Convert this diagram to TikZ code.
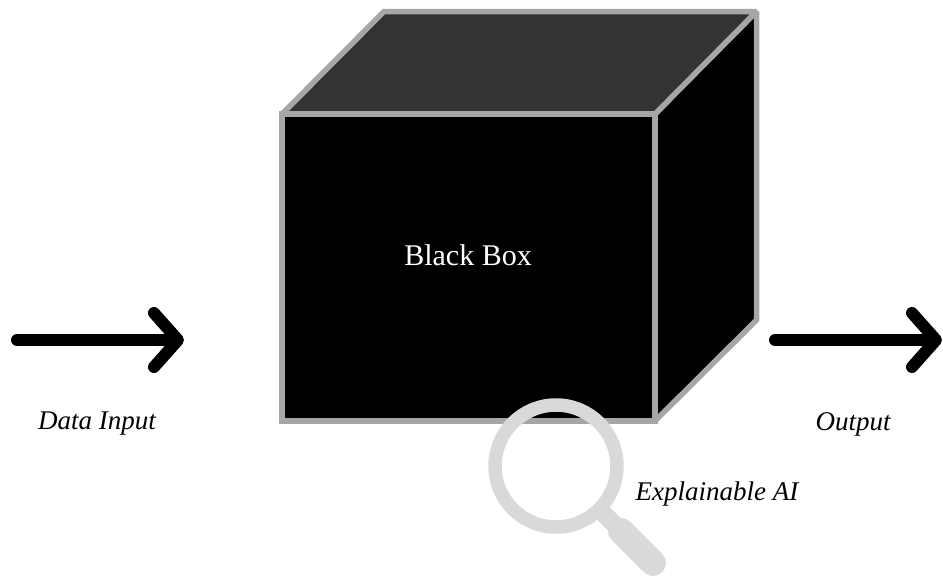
\documentclass[tikz,border=0pt]{standalone}
\usepackage{fontspec}
\setmainfont{Liberation Serif}
\usetikzlibrary{arrows.meta}
\tikzset{
  face/.style={draw=boxedge, line width=5.5pt, miter limit=1.5},
  flow/.style={line width=12pt, line cap=round, -{Straight Barb[round, length=24pt, width=54pt]}},
  lens/.style={draw=lensgray, line width=13.5pt},
  caption/.style={font=\fontsize{27}{30}\selectfont\itshape, inner sep=0pt}
}
\definecolor{boxedge}{HTML}{A6A6A6}
\definecolor{boxtop}{HTML}{333333}
\definecolor{lensgray}{HTML}{D9D9D9}

\begin{document}
\begin{tikzpicture}[x=1pt, y=-1pt]
  \useasboundingbox (0,0) rectangle (943,576);
  \coordinate (fl) at (282,421);
  \coordinate (ftl) at (282,114);
  \coordinate (ftr) at (655,114);
  \coordinate (fr) at (655,421);
  \coordinate (btl) at (384,11.5);
  \coordinate (btr) at (756.5,11.5);
  \coordinate (br) at (756.5,320);
  \draw[face, fill=black] (ftr) -- (btr) -- (br) -- (fr) -- cycle;
  \draw[face, fill=boxtop] (ftl) -- (btl) -- (btr) -- (ftr) -- cycle;
  \draw[face, fill=black] (fl) rectangle (ftr);
  \node[text=white, font=\fontsize{30}{34}\selectfont] (boxlabel) at (468,255) {Black Box};
  % input and output
  \coordinate (instart) at (17,340);
  \coordinate (inend) at (184,340);
  \coordinate (outstart) at (775,340);
  \coordinate (outend) at (942,340);
  \draw[flow] (instart) -- (inend);
  \draw[flow] (outstart) -- (outend);
  \node[caption] (inlabel) at (97,424) {Data Input};
  \node[caption] (outlabel) at (853,424) {Output};
  % magnifier
  \coordinate (lens) at (556,466);
  \draw[lens] (lens) circle (61);
  \draw[lensgray, line width=18pt] (599,509) -- (625,535);
  \draw[lensgray, line width=26pt, line cap=round] (621,531) -- (653,563);
  \node[caption] (xailabel) at (717,494) {Explainable AI};
\end{tikzpicture}
\end{document}
